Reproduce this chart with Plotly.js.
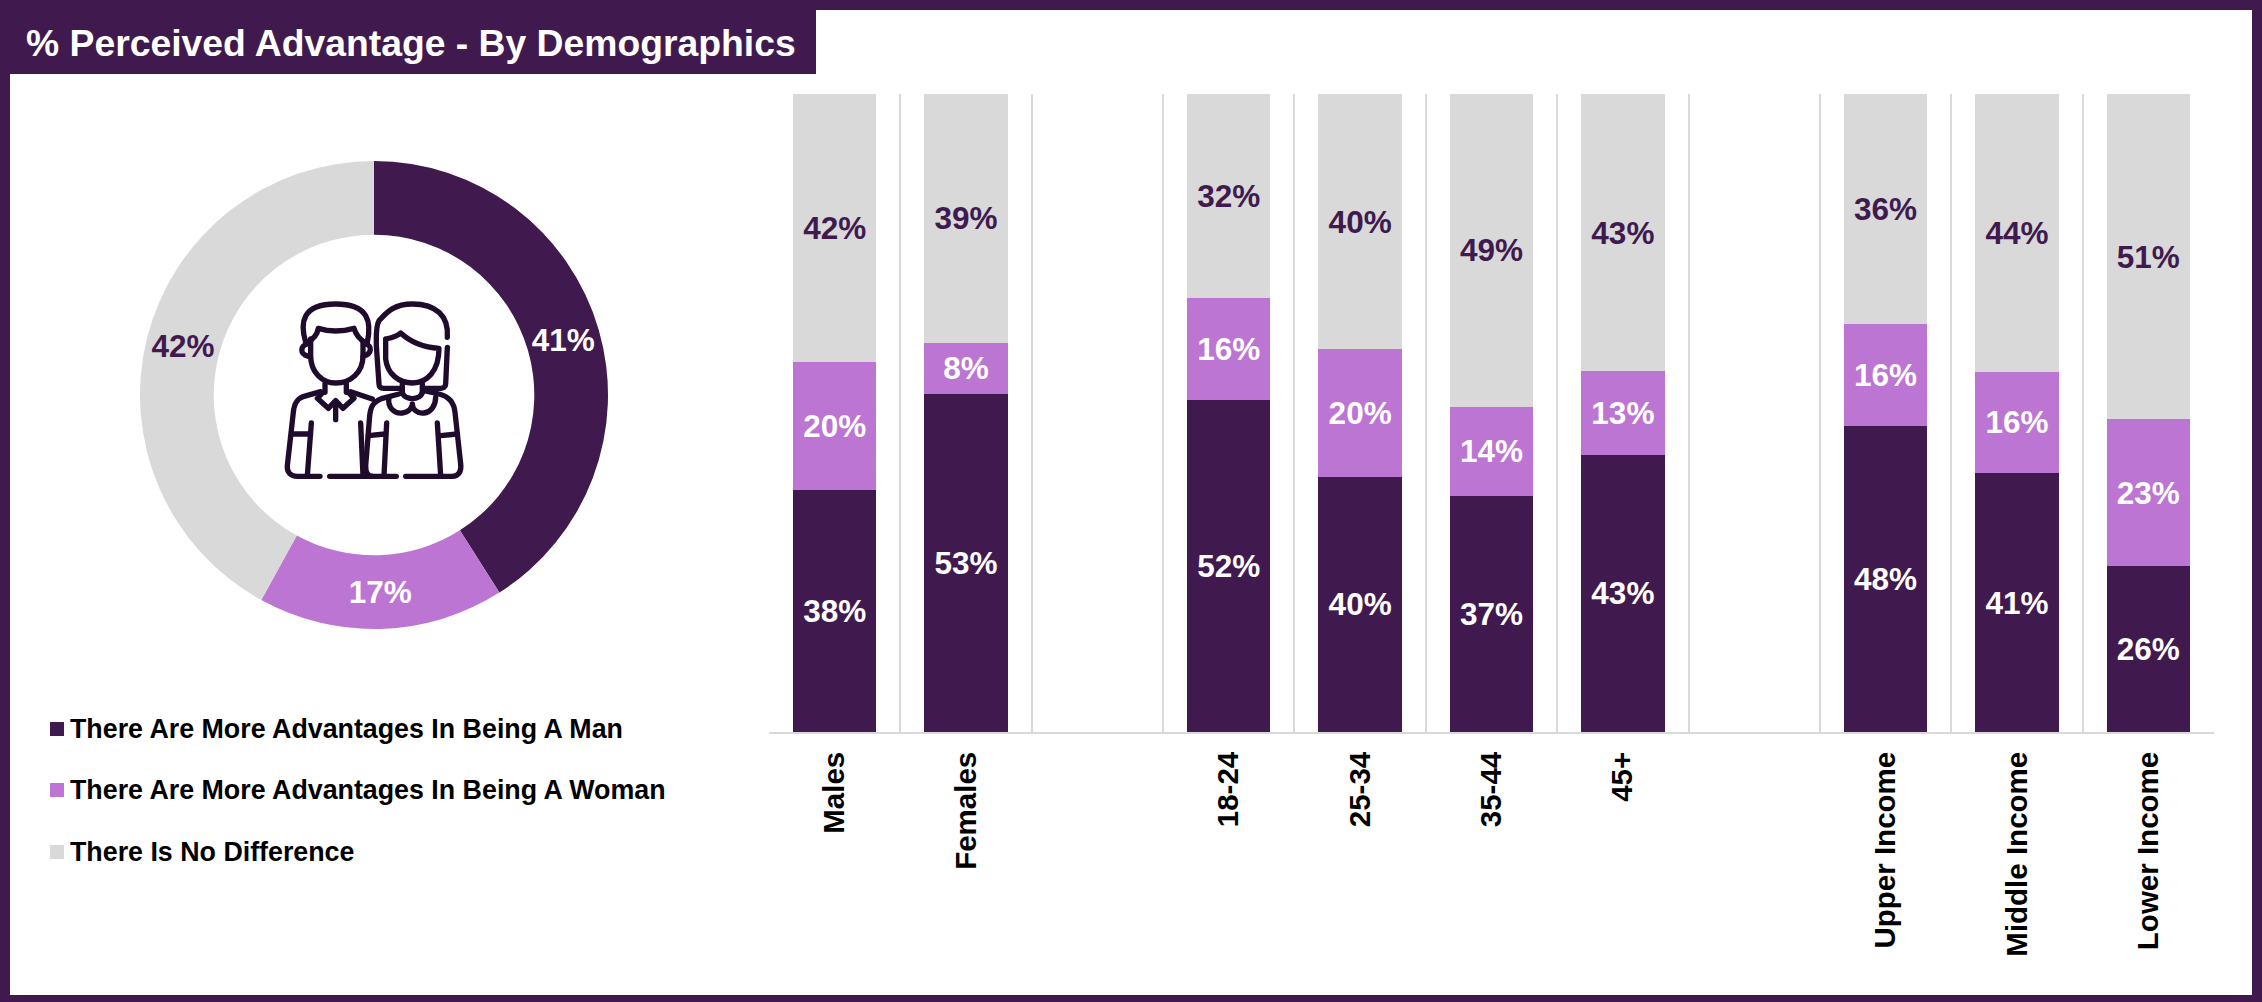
<!DOCTYPE html>
<html>
<head>
<meta charset="utf-8">
<title>% Perceived Advantage - By Demographics</title>
<script src="https://cdn.plot.ly/plotly-3.0.1.min.js"></script>
<style>
  html, body { margin: 0; padding: 0; background: #fff; }
  #chart { width: 2262px; height: 1002px; }
</style>
</head>
<body>
<div id="chart"></div>
<script>
// Survey results, in percent
const chartTitle = '% Perceived Advantage - By Demographics';
const seriesNames = [
  'There Are More Advantages In Being A Man',
  'There Are More Advantages In Being A Woman',
  'There Is No Difference'
];
const seriesColors = ['#401A4F', '#BC75D3', '#D9D9D9'];
const overall = [41, 17, 42];

// Blank categories act as spacers between the three demographic groups
const categories = ['Males', 'Females', ' ', '18-24', '25-34', '35-44', '45+', '  ',
  'Upper Income', 'Middle Income', 'Lower Income'];
const moreMan   = [38, 53, null, 52, 40, 37, 43, null, 48, 41, 26];
const moreWoman = [20, 8, null, 16, 20, 14, 13, null, 16, 16, 23];
const noDiff    = [42, 39, null, 32, 40, 49, 43, null, 36, 44, 51];

const W = 2262, H = 1002;
const px = v => v / W;
const py = v => 1 - v / H;
const FONT = '"Liberation Sans", Arial, sans-serif';
const DARK = seriesColors[0];

const pct = arr => arr.map(v => (v === null ? '' : v + '%'));
const barTrace = (values, i, textColor) => ({
  type: 'bar',
  x: categories,
  y: values,
  name: seriesNames[i],
  marker: { color: seriesColors[i], line: { width: 0 } },
  text: pct(values),
  textposition: 'inside',
  insidetextanchor: 'middle',
  textangle: 0,
  constraintext: 'none',
  textfont: { family: FONT, size: 31.5, color: textColor, weight: 700 },
  hoverinfo: 'x+y+name',
  showlegend: false
});

const traces = [
  barTrace(moreMan, 0, '#FFFFFF'),
  barTrace(moreWoman, 1, '#FFFFFF'),
  barTrace(noDiff, 2, DARK),
  {
    type: 'pie',
    labels: seriesNames,
    values: overall,
    text: pct(overall),
    textinfo: 'text',
    textposition: 'inside',
    insidetextorientation: 'horizontal',
    sort: false,
    direction: 'clockwise',
    rotation: 0,
    hole: 0.685,
    marker: { colors: seriesColors, line: { width: 0 } },
    insidetextfont: { family: FONT, size: 31.5, color: ['#FFFFFF', '#FFFFFF', DARK], weight: 700 },
    domain: { x: [px(140), px(608)], y: [py(629), py(161)] },
    showlegend: false
  }
];

// Line icon of a man and a woman, shown in the hole of the donut
const iconPaths = [
  'M200 250C182 190 190 135 290 135C390 135 398 190 385 250',
  'M205 250C225 240 235 225 238 208C270 218 310 218 345 208C350 225 360 240 378 250',
  'M215 240L215 290C215 340 250 372 290 372C335 372 372 340 372 290L372 250',
  'M205 255C185 260 180 285 208 292M380 255C400 260 400 285 372 292',
  'M258 375L258 400M322 375L322 400',
  'M250 402L235 418L268 448L290 425L312 448L345 418L330 402M290 430L290 482',
  'M245 398L195 412C170 420 165 440 163 460L145 620C143 640 155 652 175 652L243 652',
  'M160 525L215 525M217 492L205 650',
  'M272 652L472 652',
  'M500 652L640 652C660 652 668 635 665 615L648 460C645 430 630 412 600 405L555 395',
  'M335 398L400 420M365 492L372 650',
  'M625 235C630 170 590 135 520 135C460 135 440 165 420 185C410 200 412 230 412 260L420 375C420 385 425 388 435 388L490 388',
  'M625 265L620 375C620 385 612 388 605 388L555 388',
  'M440 240L440 300C445 345 480 372 520 372C565 372 600 335 600 268C550 265 510 245 485 222C470 235 455 237 440 240',
  'M490 375L490 400M550 375L550 400',
  'M480 405L430 418C400 430 395 445 392 470L380 620C380 640 385 650 400 652',
  'M450 415C445 445 465 465 490 462C510 460 520 445 520 435C520 450 535 465 555 462C575 460 590 440 590 415',
  'M490 400C495 425 545 425 550 400',
  'M443 492L435 650M595 492L605 650M388 530L437 525M605 530L655 525'
];
const iconSvg = '<svg xmlns="http://www.w3.org/2000/svg" viewBox="0 0 780 720" width="780" height="720">' +
  '<g fill="none" stroke="#1F0B2B" stroke-width="16" stroke-linecap="round" stroke-linejoin="round">' +
  iconPaths.map(d => '<path d="' + d + '"/>').join('') + '</g></svg>';

// Paper-anchored filled rectangle given in page pixels
const box = (x0, y0, x1, y1, color) => ({
  type: 'rect', xref: 'paper', yref: 'paper', layer: 'below',
  x0: px(x0), x1: px(x1), y0: py(y0), y1: py(y1),
  fillcolor: color, line: { width: 0 }
});

const legendRows = [729, 790, 852];
const shapes = [
  box(0, 0, W, 10, DARK),
  box(0, 995, W, H, DARK),
  box(0, 0, 10, H, DARK),
  box(2252, 0, W, H, DARK),
  box(0, 0, 816, 74, DARK)
].concat(legendRows.map((y, i) => box(50, y - 7, 64, y + 7, seriesColors[i])));

const annotations = seriesNames.map((name, i) => ({
  xref: 'paper', yref: 'paper',
  x: px(68), y: py(legendRows[i]),
  xanchor: 'left', yanchor: 'middle', showarrow: false,
  text: name,
  font: { family: FONT, size: 26.8, color: '#000000', weight: 700 }
}));

const layout = {
  width: W,
  height: H,
  autosize: false,
  margin: { l: 0, r: 0, t: 0, b: 0, pad: 0 },
  paper_bgcolor: '#FFFFFF',
  plot_bgcolor: '#FFFFFF',
  barmode: 'stack',
  barnorm: 'percent',
  bargap: 0.365,
  title: {
    text: chartTitle,
    x: px(26), xanchor: 'left', xref: 'paper',
    y: py(43), yanchor: 'middle', yref: 'paper',
    font: { family: FONT, size: 37.3, color: '#FFFFFF', weight: 700 }
  },
  xaxis: {
    domain: [px(769), px(2214)],
    type: 'category',
    categoryorder: 'array',
    categoryarray: categories,
    range: [-0.5, 10.5],
    tickson: 'boundaries',
    ticks: '',
    showgrid: true,
    gridcolor: '#D9D9D9',
    gridwidth: 2,
    showline: true,
    linecolor: '#D9D9D9',
    linewidth: 2,
    tickangle: -90,
    ticklabelstandoff: 6,
    tickfont: { family: FONT, size: 29.5, color: '#000000', weight: 700 },
    fixedrange: true
  },
  yaxis: {
    domain: [py(732), py(94)],
    range: [0, 100],
    visible: false,
    showgrid: false,
    fixedrange: true
  },
  shapes: shapes,
  annotations: annotations,
  images: [{
    source: 'data:image/svg+xml;utf8,' + encodeURIComponent(iconSvg),
    xref: 'paper', yref: 'paper',
    x: px(239), y: py(259),
    sizex: 260 / W, sizey: 240 / H,
    xanchor: 'left', yanchor: 'top',
    sizing: 'stretch', layer: 'above'
  }]
};

Plotly.newPlot('chart', traces, layout, { displayModeBar: false, responsive: false });
</script>
</body>
</html>
